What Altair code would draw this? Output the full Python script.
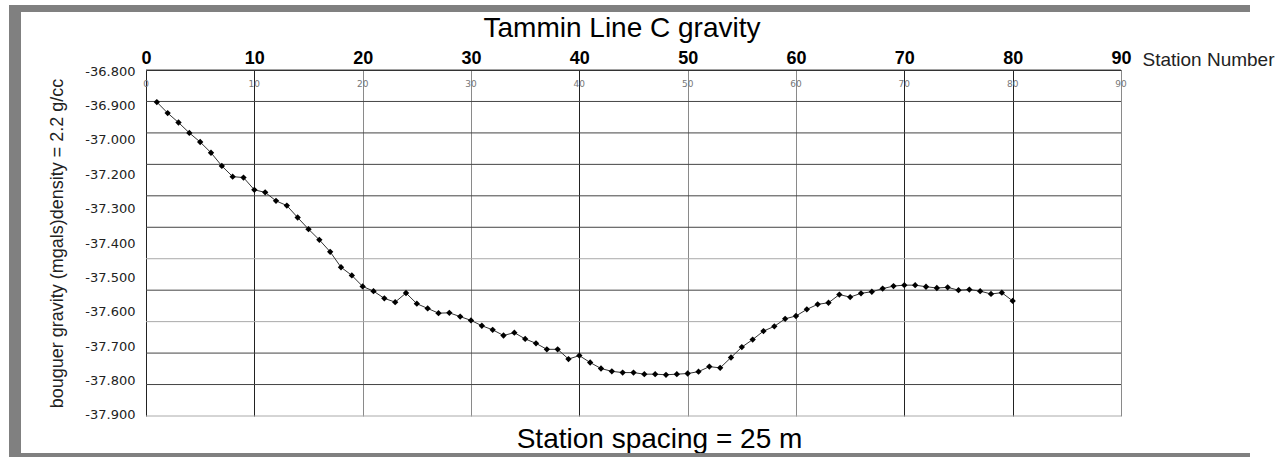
import altair as alt
import pandas as pd

# ---- data ----
stations = list(range(1, 81))
gravity = [
    -36.902, -36.937, -36.967, -37.000, -37.029, -37.063, -37.105, -37.139, -37.142, -37.181,
    -37.189, -37.216, -37.231, -37.269, -37.306, -37.340, -37.378, -37.427, -37.453, -37.488,
    -37.503, -37.526, -37.538, -37.509, -37.543, -37.558, -37.573, -37.572, -37.584, -37.596,
    -37.613, -37.626, -37.644, -37.635, -37.655, -37.669, -37.688, -37.688, -37.719, -37.708,
    -37.730, -37.749, -37.758, -37.762, -37.762, -37.767, -37.767, -37.769, -37.767, -37.765,
    -37.759, -37.743, -37.747, -37.714, -37.681, -37.657, -37.630, -37.615, -37.591, -37.582,
    -37.561, -37.545, -37.540, -37.514, -37.522, -37.510, -37.505, -37.495, -37.487, -37.484,
    -37.484, -37.489, -37.493, -37.491, -37.500, -37.498, -37.503, -37.512, -37.508, -37.534,
]
x_ticks = [0, 10, 20, 30, 40, 50, 60, 70, 80, 90]
y_grid = [-36.8, -36.9, -37.0, -37.1, -37.2, -37.3, -37.4, -37.5, -37.6, -37.7, -37.8, -37.9]
y_labels = ["-36.800", "-36.900", "-37.000", "-37.200", "-37.300", "-37.400",
            "-37.500", "-37.600", "-37.700", "-37.800", "-37.900"]
title_text = "Tammin Line C gravity"

df = pd.DataFrame({"station": stations, "gravity": gravity})
df_xlab = pd.DataFrame({"station": x_ticks, "lab": [str(v) for v in x_ticks]})
df_ylab = pd.DataFrame({"lab": y_labels})
df_ygrid = pd.DataFrame({"v": y_grid})

FONT = "Liberation Sans"
W, H = 975, 346

xscale = alt.Scale(domain=[0, 90], nice=False)
yscale = alt.Scale(domain=[-37.9, -36.8], nice=False, zero=False)

x_grid_color = {"condition": {"test": "indexof([0,10,40,70,80], datum.value) >= 0", "value": "#222222"},
                "value": "#8a8a8a"}
light_y = "abs(datum.v + 37.4) < 0.01 || abs(datum.v + 37.6) < 0.01 || abs(datum.v + 37.9) < 0.01"

hgrid = alt.Chart(df_ygrid).mark_rule(strokeWidth=1).encode(
    y=alt.Y("v:Q", scale=yscale, axis=None),
    color=alt.condition(light_y, alt.value("#aaaaaa"), alt.value("#444444")),
)

line = alt.Chart(df).mark_line(color="#333333", strokeWidth=1).encode(
    x=alt.X("station:Q", scale=xscale,
            axis=alt.Axis(orient="top", values=x_ticks, format="d", ticks=False,
                          domain=True, domainColor="#222222",
                          labelFont=FONT, labelFontSize=18, labelFontWeight="bold",
                          labelColor="black", labelPadding=3, labelFlush=False,
                          grid=True, gridColor=x_grid_color, gridOpacity=1,
                          title="Station Number", titleFont=FONT, titleFontSize=19,
                          titleFontWeight="normal", titleColor="#222222",
                          titleX=996, titleY=-5, titleAlign="left",
                          titleBaseline="alphabetic", titleAngle=0)),
    y=alt.Y("gravity:Q", scale=yscale, axis=None),
)

points = alt.Chart(df).mark_point(shape="diamond", filled=True, color="black",
                                  size=40, opacity=1).encode(
    x=alt.X("station:Q", scale=xscale),
    y=alt.Y("gravity:Q", scale=yscale),
)

main = alt.layer(hgrid, line, points)

small_x = alt.Chart(df_xlab).mark_text(font="DejaVu Sans", fontSize=9, color="#777777",
                                        baseline="middle", align="center").encode(
    x=alt.X("station:Q", scale=xscale,
            axis=alt.Axis(orient="bottom", labels=False, ticks=False, domain=False,
                          grid=False, title="Station spacing = 25 m", titleFont=FONT,
                          titleFontSize=28, titleFontWeight="normal", titleColor="black",
                          titleX=513, titleY=31, titleAlign="center",
                          titleBaseline="alphabetic")),
    y=alt.value(14),
    text="lab:N",
)

y_lab_layer = alt.Chart(df_ylab).mark_point(opacity=0).encode(
    y=alt.Y("lab:N", sort=y_labels, scale=alt.Scale(type="point", padding=0.03),
            axis=alt.Axis(orient="left", ticks=False, domain=False, grid=False,
                          labelFont="DejaVu Sans", labelFontSize=13, labelColor="#222222",
                          labelPadding=11,
                          title="bouguer gravity (mgals)density = 2.2 g/cc",
                          titleFont=FONT, titleFontSize=18, titleFontWeight="normal",
                          titleColor="#222222", titlePadding=18)),
)

dummy = alt.Data(values=[{"k": 1}])
title_mark = alt.Chart(dummy).mark_text(
    text=title_text, font=FONT, fontSize=28, color="black",
    align="center", baseline="alphabetic").encode(
    x=alt.value(476), y=alt.value(-33))
frame_top = alt.Chart(dummy).mark_rect(color="#808080").encode(
    x=alt.value(-137), x2=alt.value(1104), y=alt.value(-65), y2=alt.value(-58))
frame_left = alt.Chart(dummy).mark_rect(color="#808080").encode(
    x=alt.value(-137), x2=alt.value(-125), y=alt.value(-65), y2=alt.value(387))
frame_bottom = alt.Chart(dummy).mark_rect(color="#808080").encode(
    x=alt.value(-137), x2=alt.value(1104), y=alt.value(383), y2=alt.value(387))

chart = alt.layer(
    main, small_x, y_lab_layer, title_mark, frame_top, frame_left, frame_bottom
).resolve_scale(
    y="independent"
).resolve_axis(
    x="independent", y="independent"
).properties(
    width=W, height=H,
    autosize=alt.AutoSizeParams(type="none"),
    padding={"left": 146, "top": 70, "right": 159, "bottom": 41},
    background="white",
).configure_view(stroke=None)

chart.save("out.html", embed_options={"renderer": "svg", "actions": False})
